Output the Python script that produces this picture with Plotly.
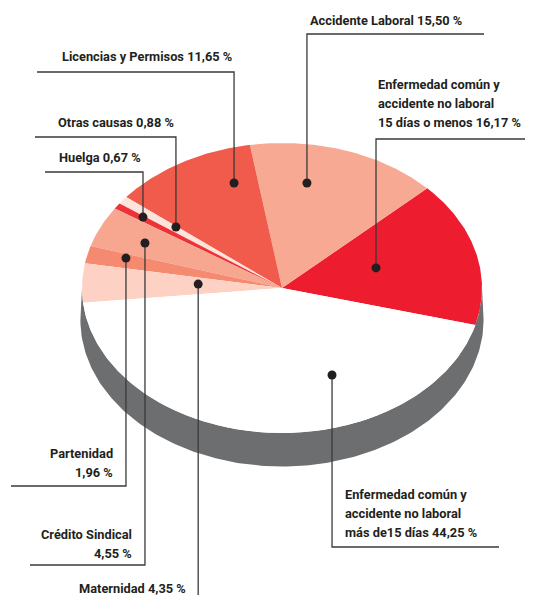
import numpy as np
import plotly.graph_objects as go

# ---- data ----
categories = [
    "Enfermedad común y accidente no laboral 15 días o menos",
    "Accidente Laboral",
    "Licencias y Permisos",
    "Otras causas",
    "Huelga",
    "Crédito Sindical",
    "Partenidad",
    "Maternidad",
    "Enfermedad común y accidente no laboral más de15 días",
]
values = [16.17, 15.50, 11.65, 0.88, 0.67, 4.55, 1.96, 4.35, 44.25]
label_texts = [
    "Enfermedad común y<br>accidente no laboral<br>15 días o menos 16,17 %",
    "Accidente Laboral 15,50 %",
    "Licencias y Permisos 11,65 %",
    "Otras causas 0,88 %",
    "Huelga 0,67 %",
    "Crédito Sindical<br>4,55 %",
    "Partenidad<br>1,96 %",
    "Maternidad 4,35 %",
    "Enfermedad común y<br>accidente no laboral<br>más de15 días 44,25 %",
]

# ---- style ----
colors = ["#ED1C2E", "#F8A994", "#F15B4B", "#FDE3DA", "#EE3338",
          "#F7A690", "#F58A71", "#FDD2C4", "#FFFFFF"]
side_color = "#6D6E70"
line_color = "#3A3A3A"
text_color = "#231F20"
FONT = "Roboto, Noto Sans, sans-serif"
FSIZE = 12.8
LINE_GAP = 19

W, H = 533, 595
OFF = 8  # page body margin
cx, cy, rx, ry = 282, 288, 200, 145
depth = 32
start_deg = -14.8

# dot placement relative to slice middle (deg offset, radius fraction)
dot_off = [2.1, 8.9, -11.9, -1.2, -0.7, 0.7, -1.5, -1.75, 27.1]
dot_r = [0.49, 0.735, 0.763, 0.677, 0.85, 0.752, 0.807, 0.42, 0.65]

# label anchors (x, y, xanchor), leader horizontal (y, x_other_end) or None
labels = [
    (376, 103, "left"),
    (308, 20, "left"),
    (234, 56, "right"),
    (176, 122, "right"),
    (143, 157, "right"),
    (134, 544, "right"),
    (115, 462.5, "right"),
    (188, 588, "right"),
    (343, 513, "left"),
]
leaders = [
    (139, 533),
    (34, 484),
    (72, 37),
    (137, 35),
    (172, 45),
    (565, 30),
    (486, 11),
    (595, None),
    (547, 499),
]

def ell(t_deg, r=1.0, dy=0.0, sx=1.0, sy=1.0):
    t = np.radians(t_deg)
    return cx + rx * sx * r * np.cos(t), cy + dy - ry * sy * r * np.sin(t)

fig = go.Figure()

# side (depth)
t_lower = np.linspace(180, 360, 200)
x_top, y_top = ell(t_lower)
x_bot, y_bot = ell(t_lower[::-1], dy=depth, sx=1.008, sy=1.01)
fig.add_trace(go.Scatter(
    x=np.concatenate([x_top, x_bot]), y=np.concatenate([y_top, y_bot]),
    fill="toself", fillcolor=side_color, line=dict(width=0), mode="lines",
    hoverinfo="skip", showlegend=False))

total = sum(values)
angles = np.cumsum([0] + [v / total * 360 for v in values]) + start_deg
dots_x, dots_y = [], []
for i, v in enumerate(values):
    a0, a1 = angles[i], angles[i + 1]
    n = max(3, int((a1 - a0) * 2))
    ts = np.linspace(a0, a1, n)
    ax, ay = ell(ts)
    xs = np.concatenate([[cx], ax, [cx]])
    ys = np.concatenate([[cy], ay, [cy]])
    fig.add_trace(go.Scatter(
        x=xs, y=ys, fill="toself", fillcolor=colors[i], mode="lines",
        line=dict(width=0), name=categories[i], hoverinfo="name",
        showlegend=False))
    mid = (a0 + a1) / 2 + dot_off[i]
    dx, dy = ell(mid, r=dot_r[i])
    dots_x.append(float(dx))
    dots_y.append(float(dy))

# leader lines
for i in range(len(values)):
    hy, hx = leaders[i]
    xs = [dots_x[i], dots_x[i]]
    ys = [dots_y[i], hy]
    if hx is not None:
        xs.append(hx)
        ys.append(hy)
    fig.add_trace(go.Scatter(x=xs, y=ys, mode="lines",
                             line=dict(color=line_color, width=1.3),
                             hoverinfo="skip", showlegend=False))

fig.add_trace(go.Scatter(x=dots_x, y=dots_y, mode="markers",
                         marker=dict(color=text_color, size=9),
                         hoverinfo="skip", showlegend=False))

for i, (lx, ly, anc) in enumerate(labels):
    parts = label_texts[i].split("<br>")
    n = len(parts)
    for j, p in enumerate(parts):
        fig.add_annotation(x=lx, y=ly + (j - (n - 1) / 2) * LINE_GAP,
                           text=p, showarrow=False,
                           xanchor=anc, yanchor="middle", align=anc,
                           font=dict(family=FONT, size=FSIZE,
                                     color=text_color, weight="bold"))

fig.update_layout(
    width=W - OFF, height=H - OFF, margin=dict(l=0, r=0, t=0, b=0),
    paper_bgcolor="white", plot_bgcolor="white",
    xaxis=dict(range=[OFF, W], visible=False, fixedrange=True),
    yaxis=dict(range=[H, OFF], visible=False, fixedrange=True),
    showlegend=False,
)
fig.write_html("out.html")
